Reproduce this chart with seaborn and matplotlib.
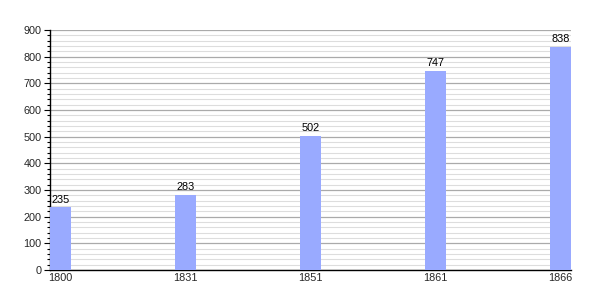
import matplotlib
matplotlib.use("Agg")
import matplotlib.pyplot as plt
import seaborn as sns
import pandas as pd
from matplotlib.ticker import MultipleLocator

years = ["1800", "1831", "1851", "1861", "1866"]
population = [235, 283, 502, 747, 838]

sns.set_theme(style="white")
plt.rcParams['font.family'] = ['Liberation Sans', 'DejaVu Sans']

df = pd.DataFrame({"year": years, "pop": population})

fig = plt.figure(figsize=(6, 3), dpi=100)
ax = fig.add_axes([50/600, 30/300, 521/600, 240/300])

sns.barplot(data=df, x="year", y="pop", color="#99aaff", saturation=1,
            width=0.165, linewidth=0, edgecolor="none", ax=ax, zorder=3)

ax.set_xlim(-0.085, 4.085)
ax.set_ylim(0, 900)
ax.yaxis.set_major_locator(MultipleLocator(100))
ax.yaxis.set_minor_locator(MultipleLocator(20))
ax.grid(True, which="major", axis="y", color="#aaaaaa", linewidth=0.9, zorder=0)
ax.grid(True, which="minor", axis="y", color="#dddddd", linewidth=0.8, zorder=0)
ax.set_axisbelow(True)

for s in ["top", "right"]:
    ax.spines[s].set_visible(False)
for s in ["left", "bottom"]:
    ax.spines[s].set_color("black")
    ax.spines[s].set_linewidth(1.0)

ax.tick_params(axis="y", which="major", direction="out", length=4, width=0.8,
               color="black", labelsize=7.8, pad=2, left=True)
ax.tick_params(axis="y", which="minor", direction="out", length=2, width=0.8,
               color="black", left=True)
ax.tick_params(axis="x", which="both", length=0, labelsize=7.8, pad=2)

ax.set_xlabel("")
ax.set_ylabel("")

for i, v in enumerate(population):
    ax.text(i, v + 10, str(v), ha="center", va="bottom", fontsize=7.8, color="black")

fig.savefig("out.png", dpi=100, facecolor="white")
